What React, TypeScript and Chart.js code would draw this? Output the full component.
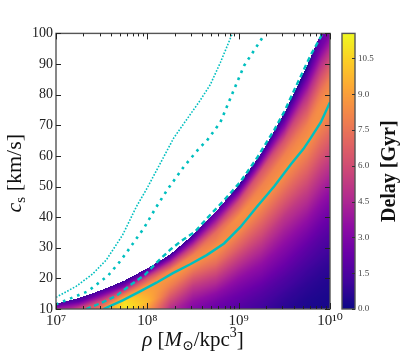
import React, { useEffect, useRef } from 'react';
import { Chart, registerables } from 'chart.js';

Chart.register(...registerables);

// ---------- data ----------
// axis ranges
const RHO_MIN = 1e7;
const RHO_MAX = 1e10;
const CS_MIN = 10;
const CS_MAX = 100;
const DELAY_MIN = 0;
const DELAY_MAX = 11.55;
const DELAY_STEP = 1.5;
const CS_STEP = 10;

// heatmap grid: columns = log10(rho), rows = c_s [km/s]
const gridLogRho = [7.0, 7.25, 7.5, 7.75, 8.0, 8.25, 8.5, 8.75, 9.0, 9.25, 9.5, 9.75, 10.0];
const gridCs = [10, 12.5, 15, 17.5, 20, 22.5, 25, 27.5, 30, 35, 40, 45, 50, 55, 60, 65, 70, 75, 80, 85, 90, 95, 100];
const N = null;
// delay [Gyr]; one row per gridCs value; null = no solution (white)
const delayGrid: (number | null)[][] = [
  [4.0, 6.0, 8.0, 11.2, 9.0, 4.8, 3.0, 2.2, 1.6, 1.1, 0.6, 0.3, 0.2],
  [N, 2.0, 6.0, 10.8, 9.8, 5.8, 3.6, 2.7, 2.0, 1.4, 0.8, 0.4, 0.25],
  [N, N, 2.5, 7.5, 9.3, 6.9, 4.4, 3.4, 2.4, 1.7, 1.0, 0.55, 0.3],
  [N, N, N, 3.0, 8.8, 7.9, 5.3, 4.3, 2.9, 2.1, 1.3, 0.7, 0.4],
  [N, N, N, N, 6.3, 8.6, 6.4, 5.2, 3.5, 2.6, 1.6, 0.9, 0.5],
  [N, N, N, N, 2.0, 8.2, 7.6, 6.2, 4.2, 3.1, 2.0, 1.1, 0.65],
  [N, N, N, N, N, 5.0, 8.6, 7.3, 5.0, 3.6, 2.4, 1.4, 0.8],
  [N, N, N, N, N, 1.2, 8.0, 8.1, 5.8, 4.2, 2.8, 1.7, 1.0],
  [N, N, N, N, N, N, 5.8, 8.6, 6.7, 4.8, 3.2, 2.0, 1.2],
  [N, N, N, N, N, N, N, 7.2, 8.2, 6.1, 4.1, 2.8, 1.7],
  [N, N, N, N, N, N, N, 3.0, 8.5, 7.4, 5.1, 3.7, 2.3],
  [N, N, N, N, N, N, N, N, 6.0, 8.6, 6.4, 4.7, 3.0],
  [N, N, N, N, N, N, N, N, 1.0, 8.0, 7.6, 5.7, 3.8],
  [N, N, N, N, N, N, N, N, N, 6.3, 8.6, 6.8, 4.7],
  [N, N, N, N, N, N, N, N, N, 1.5, 8.0, 7.8, 5.6],
  [N, N, N, N, N, N, N, N, N, N, 6.2, 8.6, 6.6],
  [N, N, N, N, N, N, N, N, N, N, 3.0, 8.0, 7.5],
  [N, N, N, N, N, N, N, N, N, N, N, 6.5, 8.3],
  [N, N, N, N, N, N, N, N, N, N, N, 4.8, 8.6],
  [N, N, N, N, N, N, N, N, N, N, N, 2.6, 7.9],
  [N, N, N, N, N, N, N, N, N, N, N, N, 6.4],
  [N, N, N, N, N, N, N, N, N, N, N, N, 4.7],
  [N, N, N, N, N, N, N, N, N, N, N, N, 2.8],
];

// upper edge of the region that has a delay (white above)
const edgeLogRho = [7.0, 7.25, 7.5, 7.75, 8.0, 8.25, 8.5, 8.75, 9.0, 9.25, 9.5, 9.75, 9.9, 10.0];
const edgeCs = [11.7, 13.6, 16.2, 19.3, 23.3, 27.8, 34.2, 41.8, 50.5, 61.0, 74.0, 89.5, 100, 105];

// solid cyan curve
const solidLogRho = [7.52, 7.73, 7.91, 8.1, 8.28, 8.47, 8.65, 8.84, 9.02, 9.2, 9.39, 9.57, 9.71, 9.79, 9.9, 10.0];
const solidCs = [10, 12.8, 15.6, 18.6, 21.7, 24.6, 27.6, 31.4, 36.8, 43.4, 50.1, 57.2, 62.3, 65.9, 71.0, 77.5];

// dashed cyan curve
const dashedLogRho = [7.33, 7.49, 7.66, 7.82, 7.97, 8.13, 8.26, 8.37, 8.52, 8.65, 8.84, 9.02, 9.2, 9.39, 9.5, 9.64, 9.79, 9.92];
const dashedCs = [10, 11.9, 14.3, 17.9, 21.1, 26.0, 29.6, 32.2, 35.2, 39.5, 45.5, 51.6, 59.3, 68.5, 74.5, 83.5, 93.0, 100];

// dash-dot (big dots) cyan curve
const dashDotLogRho = [7.0, 7.35, 7.57, 7.7, 7.8, 7.96, 8.1, 8.22, 8.4, 8.58, 8.65, 8.8, 8.93, 9.06, 9.28];
const dashDotCs = [11.5, 15.8, 20.9, 25.5, 29.6, 36.3, 43.4, 49.0, 56.5, 62.9, 64.9, 71.0, 80.3, 89.5, 99.5];

// fine dotted cyan curve
const dottedLogRho = [7.0, 7.22, 7.4, 7.55, 7.64, 7.73, 7.88, 8.0, 8.29, 8.58, 8.69, 8.8, 8.93];
const dottedCs = [13.8, 17.4, 21.4, 26.0, 30.1, 34.2, 43.4, 49.6, 65.9, 78.2, 83.3, 90.5, 99.9];

// ---------- styling ----------
const FONT = '"Liberation Serif", "DejaVu Serif", serif';
const CYAN = '#00bfbf';
const FRAME = '#555555';
const PLASMA = ['#0d0887', '#41049d', '#6a00a8', '#8f0da4', '#b12a90', '#cc4778', '#e16462', '#f2844b', '#fca636', '#fcce25', '#f0f921'];
const PLASMA_RGB = PLASMA.map((h) => [1, 3, 5].map((k) => parseInt(h.slice(k, k + 2), 16)));
const SUP: Record<string, string> = { '0': '⁰', '1': '¹', '2': '²', '3': '³', '4': '⁴', '5': '⁵', '6': '⁶', '7': '⁷', '8': '⁸', '9': '⁹' };

function plasma(t: number): number[] {
  const tt = Math.max(0, Math.min(1, t)) * (PLASMA_RGB.length - 1);
  const i = Math.min(PLASMA_RGB.length - 2, Math.floor(tt));
  const f = tt - i;
  const a = PLASMA_RGB[i];
  const b = PLASMA_RGB[i + 1];
  return [a[0] + (b[0] - a[0]) * f, a[1] + (b[1] - a[1]) * f, a[2] + (b[2] - a[2]) * f];
}

function locate(arr: number[], v: number): [number, number] {
  if (v <= arr[0]) return [0, 0];
  for (let i = 0; i < arr.length - 1; i++) {
    if (v <= arr[i + 1]) return [i, (v - arr[i]) / (arr[i + 1] - arr[i])];
  }
  return [arr.length - 2, 1];
}

function edgeAt(L: number): number {
  const [i, f] = locate(edgeLogRho, L);
  return edgeCs[i] + f * (edgeCs[i + 1] - edgeCs[i]);
}

function columnSample(k: number, c: number): number {
  const [j, fy] = locate(gridCs, c);
  const a = delayGrid[j][k] ?? 0;
  const b = delayGrid[j + 1][k] ?? 0;
  return a * (1 - fy) + b * fy;
}

// interpolate between neighbouring grid columns along the edge shape
function sampleDelay(L: number, c: number, e: number): number {
  const [i, fx] = locate(gridLogRho, L);
  const e0 = edgeAt(gridLogRho[i]);
  const e1 = edgeAt(gridLogRho[i + 1]);
  const v0 = columnSample(i, (c * e0) / e);
  const v1 = columnSample(i + 1, (c * e1) / e);
  return v0 * (1 - fx) + v1 * fx;
}

type Seg = { text: string; font: string; dy?: number };
function drawRich(ctx: CanvasRenderingContext2D, segs: Seg[], cx: number, cy: number, angle: number, color = '#111') {
  ctx.save();
  ctx.translate(cx, cy);
  ctx.rotate(angle);
  ctx.fillStyle = color;
  ctx.textAlign = 'left';
  ctx.textBaseline = 'alphabetic';
  const widths = segs.map((s) => {
    ctx.font = s.font;
    return ctx.measureText(s.text).width;
  });
  let x = -widths.reduce((a, b) => a + b, 0) / 2;
  segs.forEach((s, k) => {
    ctx.font = s.font;
    ctx.fillText(s.text, x, s.dy || 0);
    x += widths[k];
  });
  ctx.restore();
}

const heatmapPlugin = {
  id: 'heatmap',
  beforeDatasetsDraw(chart: any) {
    const { ctx, chartArea: a, scales } = chart;
    const xs = scales.x;
    const ys = scales.y;
    const x0 = Math.floor(a.left);
    const y0 = Math.floor(a.top);
    const w = Math.ceil(a.right) - x0;
    const h = Math.ceil(a.bottom) - y0;
    const img = ctx.createImageData(w, h);
    const logs: number[] = [];
    const edges: number[] = [];
    for (let px = 0; px < w; px++) {
      const L = Math.log10(xs.getValueForPixel(x0 + px + 0.5));
      logs.push(L);
      edges.push(edgeAt(L));
    }
    for (let py = 0; py < h; py++) {
      const c = ys.getValueForPixel(y0 + py + 0.5);
      for (let px = 0; px < w; px++) {
        if (c > edges[px]) continue;
        const v = sampleDelay(logs[px], c, edges[px]);
        const col = plasma((v - DELAY_MIN) / (DELAY_MAX - DELAY_MIN));
        const o = (py * w + px) * 4;
        img.data[o] = col[0];
        img.data[o + 1] = col[1];
        img.data[o + 2] = col[2];
        img.data[o + 3] = 255;
      }
    }
    const off = document.createElement('canvas');
    off.width = w;
    off.height = h;
    (off.getContext('2d') as CanvasRenderingContext2D).putImageData(img, 0, 0);
    ctx.save();
    ctx.beginPath();
    ctx.rect(a.left, a.top, a.right - a.left, a.bottom - a.top);
    ctx.clip();
    ctx.drawImage(off, x0, y0);
    ctx.restore();
  },
};

const decorPlugin = {
  id: 'decor',
  afterDraw(chart: any) {
    const { ctx, chartArea: a, scales } = chart;
    const xs = scales.x;
    const ys = scales.y;
    const cb = scales.cb;
    ctx.save();
    // frame
    ctx.strokeStyle = FRAME;
    ctx.lineWidth = 1.4;
    ctx.strokeRect(a.left, a.top, a.right - a.left, a.bottom - a.top);
    // x ticks (inward, bottom and top)
    ctx.strokeStyle = '#222';
    ctx.lineWidth = 1;
    xs.ticks.forEach((t: any) => {
      const v = t.value;
      const e = Math.floor(Math.log10(v) + 1e-9);
      const m = v / Math.pow(10, e);
      if (Math.abs(m - Math.round(m)) > 1e-6) return;
      const major = Math.abs(m - 1) < 1e-6;
      const len = major ? 6 : 3;
      const px = Math.round(xs.getPixelForValue(v)) + 0.5;
      ctx.beginPath();
      ctx.moveTo(px, a.bottom);
      ctx.lineTo(px, a.bottom - len);
      ctx.moveTo(px, a.top);
      ctx.lineTo(px, a.top + len);
      ctx.stroke();
    });
    // y ticks (inward, left and right)
    ys.ticks.forEach((t: any) => {
      const py = Math.round(ys.getPixelForValue(t.value)) + 0.5;
      ctx.beginPath();
      ctx.moveTo(a.left, py);
      ctx.lineTo(a.left + 5, py);
      ctx.moveTo(a.right, py);
      ctx.lineTo(a.right - 5, py);
      ctx.stroke();
    });
    // colorbar
    const cbL = a.right + 12;
    const cbW = 13;
    const top = Math.round(cb.getPixelForValue(DELAY_MAX));
    const bot = Math.round(cb.getPixelForValue(DELAY_MIN));
    for (let py = top; py < bot; py++) {
      const v = cb.getValueForPixel(py + 0.5);
      const col = plasma((v - DELAY_MIN) / (DELAY_MAX - DELAY_MIN));
      ctx.fillStyle = `rgb(${col[0] | 0},${col[1] | 0},${col[2] | 0})`;
      ctx.fillRect(cbL, py, cbW, 1);
    }
    ctx.strokeStyle = FRAME;
    ctx.lineWidth = 1.4;
    ctx.strokeRect(cbL, a.top, cbW, a.bottom - a.top);
    ctx.strokeStyle = '#333';
    ctx.lineWidth = 1;
    cb.ticks.forEach((t: any) => {
      const py = Math.round(cb.getPixelForValue(t.value)) + 0.5;
      ctx.beginPath();
      ctx.moveTo(cbL + cbW, py);
      ctx.lineTo(cbL + cbW - 3, py);
      ctx.stroke();
    });
    ctx.restore();

    // axis titles
    const midY = (a.top + a.bottom) / 2;
    const midX = (a.left + a.right) / 2;
    drawRich(
      ctx,
      [
        { text: 'ρ', font: `italic 21px ${FONT}` },
        { text: ' [', font: `21px ${FONT}` },
        { text: 'M', font: `italic 21px ${FONT}` },
        { text: '⊙', font: `14px ${FONT}`, dy: 4 },
        { text: '/kpc', font: `21px ${FONT}` },
        { text: '3', font: `14px ${FONT}`, dy: -9 },
        { text: ']', font: `21px ${FONT}` },
      ],
      midX,
      346,
      0
    );
    drawRich(
      ctx,
      [
        { text: 'c', font: `italic 22px ${FONT}` },
        { text: 's', font: `15px ${FONT}`, dy: 4 },
        { text: ' [km/s]', font: `22px ${FONT}` },
      ],
      21,
      midY + 2,
      -Math.PI / 2
    );
    drawRich(ctx, [{ text: 'Delay [Gyr]', font: `bold 20px ${FONT}` }], 395, midY, -Math.PI / 2);
  },
};

function line(logs: number[], cs: number[], width: number, dash: number[]) {
  return {
    data: logs.map((L, i) => ({ x: Math.pow(10, L), y: cs[i] })),
    showLine: true,
    pointRadius: 0,
    borderColor: CYAN,
    backgroundColor: CYAN,
    borderWidth: width,
    borderDash: dash,
    borderCapStyle: 'butt',
    fill: false,
    tension: 0,
  };
}

export default function App() {
  const ref = useRef<HTMLCanvasElement | null>(null);
  useEffect(() => {
    const canvas = ref.current;
    if (!canvas) return;
    const chart = new Chart(canvas, {
      type: 'scatter',
      data: {
        datasets: [
          line(dottedLogRho, dottedCs, 1.6, [1.6, 1.6]),
          line(dashDotLogRho, dashDotCs, 2.6, [2.6, 5]),
          line(dashedLogRho, dashedCs, 2.4, [5, 3.5]),
          line(solidLogRho, solidCs, 2.4, []),
        ] as any,
      },
      options: {
        responsive: false,
        animation: false,
        devicePixelRatio: 1,
        layout: { padding: { top: 16, left: 0, right: 0, bottom: 0 } },
        plugins: { legend: { display: false }, tooltip: { enabled: false } },
        scales: {
          x: {
            type: 'logarithmic',
            min: RHO_MIN,
            max: RHO_MAX,
            position: 'bottom',
            grid: { display: false, drawTicks: false },
            border: { display: false },
            ticks: {
              autoSkip: false,
              maxRotation: 0,
              minRotation: 0,
              padding: 3,
              color: '#222',
              font: { family: FONT, size: 15 },
              callback: (v: any) => {
                const e = Math.log10(Number(v));
                if (Math.abs(e - Math.round(e)) > 1e-9) return '';
                return '10' + String(Math.round(e)).split('').map((d) => SUP[d]).join('');
              },
            },
            afterFit: (s: any) => {
              s.height = 53;
            },
          },
          y: {
            type: 'linear',
            min: CS_MIN,
            max: CS_MAX,
            position: 'left',
            grid: { display: false, drawTicks: false },
            border: { display: false },
            ticks: { stepSize: CS_STEP, padding: 3, color: '#222', font: { family: FONT, size: 14 } },
            afterFit: (s: any) => {
              s.width = 56;
            },
          },
          cb: {
            type: 'linear',
            min: DELAY_MIN,
            max: DELAY_MAX,
            position: 'right',
            grid: { display: false, drawTicks: false },
            border: { display: false },
            ticks: {
              stepSize: DELAY_STEP,
              includeBounds: false,
              padding: 28,
              color: '#444',
              font: { family: FONT, size: 9 },
              callback: (v: any) => Number(v).toFixed(1),
            },
            afterFit: (s: any) => {
              s.width = 77;
            },
          },
        },
      } as any,
      plugins: [heatmapPlugin, decorPlugin],
    });
    return () => chart.destroy();
  }, []);
  return (
    <div style={{ position: 'fixed', left: 0, top: 0, width: 407, height: 362, background: '#fff' }}>
      <canvas ref={ref} width={407} height={362} style={{ display: 'block' }} />
    </div>
  );
}
